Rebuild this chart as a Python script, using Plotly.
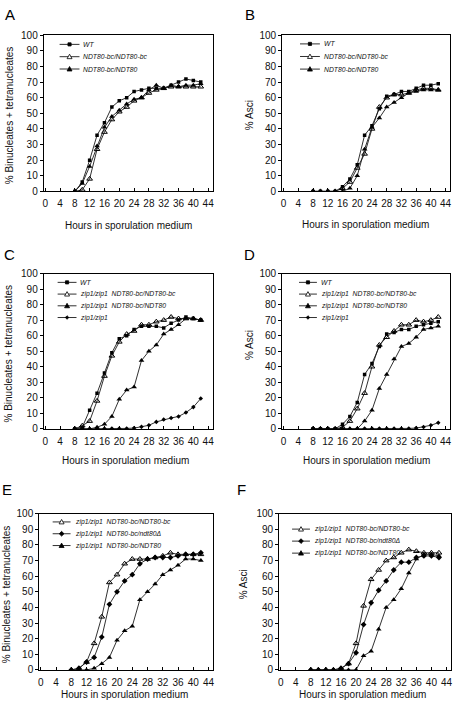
import plotly.graph_objects as go

W, H = 456, 715

hours = [8, 10, 12, 14, 16, 18, 20, 22, 24, 26, 28, 30, 32, 34, 36, 38, 40, 42]
x_ticks = [0, 4, 8, 12, 16, 20, 24, 28, 32, 36, 40, 44]

# ---- Panel A: % binucleates + tetranucleates
a_wt     = [0, 6, 20, 36, 44, 54, 58, 60, 64, 65, 66, 66, 66, 68, 70, 72, 71, 70]
a_bc_bc  = [0, 1, 8, 27, 38, 46, 51, 54, 58, 60, 63, 65, 66, 67, 67, 67, 67, 67]
a_bc_nd  = [0, 5, 16, 29, 41, 48, 52, 56, 59, 60, 65, 68, 66, 68, 67, 68, 68, 69]

# ---- Panel B: % asci
b_wt     = [0, 0, 0, 0, 3, 8, 17, 36, 42, 53, 61, 62, 64, 64, 66, 68, 68, 69]
b_bc_bc  = [0, 0, 0, 0, 2, 6, 15, 24, 40, 54, 60, 62, 62, 63, 65, 66, 66, 65]
b_bc_nd  = [0, 0, 0, 0, 0, 2, 10, 27, 41, 47, 54, 57, 60, 63, 64, 65, 65, 65]

# ---- Panel C: % binucleates + tetranucleates
c_wt     = [0, 1, 12, 23, 36, 49, 58, 60, 64, 66, 66, 66, 65, 68, 70, 72, 71, 70]
c_bc_bc  = [0, 2, 5, 18, 34, 47, 56, 61, 63, 67, 67, 69, 70, 72, 71, 71, 71, 70]
c_bc_nd  = [0, 0, 0, 1, 3, 8, 19, 25, 27, 44, 50, 54, 61, 64, 67, 71, 71, 70]
c_zip    = [0, 0, 0, 0, 0.3, 0.3, 0.3, 0.3, 0.5, 1.3, 2.3, 4.5, 6, 7, 8, 10.5, 14, 19.5]

# ---- Panel D: % asci
d_wt     = [0, 0, 0, 0, 3, 8, 17, 35, 42, 53, 61, 62, 64, 64, 66, 67, 68, 69]
d_bc_bc  = [0, 0, 0, 0, 1, 5, 13, 23, 40, 54, 59, 63, 67, 67, 70, 69, 70, 72]
d_bc_nd  = [0, 0, 0, 0, 0, 0, 0, 5, 12, 26, 35, 45, 53, 55, 59, 64, 65, 66]
d_zip    = [0, 0, 0, 0, 0, 0, 0.3, 0.3, 0.3, 0.3, 0.3, 0.3, 0.3, 0.3, 0.5, 1.2, 2.3, 4]

# ---- Panel E: % binucleates + tetranucleates
e_bc_bc  = [0, 1, 5, 17, 34, 56, 61, 68, 71, 71, 71, 72, 73, 75, 74, 74, 74, 74]
e_bc_del = [0, 1, 5, 8, 21, 42, 50, 57, 61, 68, 71, 72, 72, 72, 73, 74, 74, 75]
e_bc_nd  = [0, 0, 0, 1, 4, 8, 19, 25, 28, 45, 50, 55, 61, 64, 67, 71, 71, 70]

# ---- Panel F: % asci
f_bc_bc  = [0, 0, 0, 0, 1, 4, 17, 41, 58, 64, 70, 72, 75, 77, 76, 75, 75, 75]
f_bc_del = [0, 0, 0, 0, 1, 4, 11, 29, 43, 51, 57, 64, 69, 69, 72, 73, 73, 72]
f_bc_nd  = [0, 0, 0, 0, 0, 0, 0, 9, 12, 26, 40, 45, 52, 62, 71, 74, 74, 73]

SP = "\u00a0\u00a0"
lbl_wt = "WT"
lbl_bcbc = "NDT80-bc/NDT80-bc"
lbl_bcnd = "NDT80-bc/NDT80"
lbl_z_bcbc = "zip1/zip1" + SP + "NDT80-bc/NDT80-bc"
lbl_z_bcnd = "zip1/zip1" + SP + "NDT80-bc/NDT80"
lbl_z = "zip1/zip1"
lbl_z_del = "zip1/zip1" + SP + "NDT80-bc/ndt80Δ"

panels = [
    dict(letter="A", ytitle="% Binucleates + tetranucleates",
         series=[(lbl_wt, a_wt, "wt"), (lbl_bcbc, a_bc_bc, "open"), (lbl_bcnd, a_bc_nd, "tri")]),
    dict(letter="B", ytitle="% Asci",
         series=[(lbl_wt, b_wt, "wt"), (lbl_bcbc, b_bc_bc, "open"), (lbl_bcnd, b_bc_nd, "tri")]),
    dict(letter="C", ytitle="% Binucleates + tetranucleates",
         series=[(lbl_wt, c_wt, "wt"), (lbl_z_bcbc, c_bc_bc, "open"), (lbl_z_bcnd, c_bc_nd, "tri"),
                 (lbl_z, c_zip, "zip")]),
    dict(letter="D", ytitle="% Asci",
         series=[(lbl_wt, d_wt, "wt"), (lbl_z_bcbc, d_bc_bc, "open"), (lbl_z_bcnd, d_bc_nd, "tri"),
                 (lbl_z, d_zip, "zip")]),
    dict(letter="E", ytitle="% Binucleates + tetranucleates",
         series=[(lbl_z_bcbc, e_bc_bc, "open"), (lbl_z_del, e_bc_del, "dia"), (lbl_z_bcnd, e_bc_nd, "tri")]),
    dict(letter="F", ytitle="% Asci",
         series=[(lbl_z_bcbc, f_bc_bc, "open"), (lbl_z_del, f_bc_del, "dia"), (lbl_z_bcnd, f_bc_nd, "tri")]),
]

# ---- layout geometry (pixels)
geom = [
    dict(x=(43, 213), y=(30.7, 189.3), letter=(9.5, 9.5), xt=(128, 224), yt=(8, 112),
         leg=(59, 79, 81, 40.0, 12.5)),
    dict(x=(283, 452), y=(30.7, 189.3), letter=(250.5, 9.5), xt=(367, 223), yt=(249.5, 112),
         leg=(301, 321, 323, 39.5, 12.8)),
    dict(x=(43, 213), y=(272.7, 430.5), letter=(9, 253), xt=(125, 463), yt=(8, 354),
         leg=(57, 76, 78, 281.7, 11.9)),
    dict(x=(283, 452), y=(272.7, 430.5), letter=(250.5, 253), xt=(368, 463), yt=(250, 345),
         leg=(300, 318, 320, 281.7, 11.9)),
    dict(x=(38.5, 213.5), y=(516.7, 675.3), letter=(6, 492.5), xt=(124, 700), yt=(5.5, 598),
         leg=(52, 70, 72, 525.0, 12.0)),
    dict(x=(280, 453), y=(516.7, 675.3), letter=(242, 492.5), xt=(364, 700), yt=(245, 588),
         leg=(293, 311, 313, 532.3, 12.2)),
]

STY = {
    "wt": dict(symbol="square", size=3.5, color="black"),
    "open": dict(symbol="triangle-up-open", size=5, color="black", line=dict(width=1, color="black")),
    "tri": dict(symbol="triangle-up", size=5, color="black"),
    "zip": dict(symbol="diamond", size=3.5, color="black"),
    "dia": dict(symbol="diamond", size=4.5, color="black"),
}

FONT = "Liberation Sans, Arial, sans-serif"
LINE_COLOR = "#1a1a1a"


def px(x, y):
    return x / W, 1 - y / H


fig = go.Figure()
shapes = []
annotations = []

for i, (p, g) in enumerate(zip(panels, geom)):
    n = i + 1
    xa = "x" if n == 1 else f"x{n}"
    ya = "y" if n == 1 else f"y{n}"
    for name, vals, kind in p["series"]:
        fig.add_trace(go.Scatter(
            x=hours, y=vals, name=name, mode="lines+markers",
            line=dict(color=LINE_COLOR, width=0.9),
            marker=STY[kind], xaxis=xa, yaxis=ya, showlegend=False,
        ))
    xd = [g["x"][0] / W, g["x"][1] / W]
    yd = [1 - g["y"][1] / H, 1 - g["y"][0] / H]
    axis_common = dict(showline=True, linecolor="black", linewidth=1, mirror=True,
                       showgrid=False, zeroline=False,
                       tickfont=dict(family=FONT, size=10, color="#111"))
    fig.layout[f"xaxis{'' if n == 1 else n}"] = dict(
        domain=xd, range=[-0.4, 45.2], tickvals=x_ticks, ticks="inside", ticklen=3,
        ticklabelstandoff=3, tickcolor="black", anchor=ya, **axis_common)
    fig.layout[f"yaxis{'' if n == 1 else n}"] = dict(
        domain=yd, range=[0, 100], dtick=10, ticks="outside", ticklen=3,
        tickcolor="black", anchor=xa, **axis_common)

    # panel letter
    lx, ly = px(*g["letter"])
    annotations.append(dict(text=p["letter"], x=lx, y=ly, xref="paper", yref="paper",
                            showarrow=False, xanchor="center", yanchor="middle",
                            font=dict(family=FONT, size=15, color="black")))
    # axis titles
    tx, ty = px(*g["xt"])
    annotations.append(dict(text="Hours in sporulation medium", x=tx, y=ty, xref="paper", yref="paper",
                            showarrow=False, xanchor="center", yanchor="middle",
                            font=dict(family=FONT, size=10, color="#111")))
    tx, ty = px(*g["yt"])
    annotations.append(dict(text=p["ytitle"], x=tx, y=ty, xref="paper", yref="paper",
                            showarrow=False, xanchor="center", yanchor="middle", textangle=-90,
                            font=dict(family=FONT, size=10, color="#111")))

    # manual legend
    lx0, lx1, txx, ry0, rdy = g["leg"]
    for k, (name, vals, kind) in enumerate(p["series"]):
        ry = ry0 + k * rdy
        a0 = px(lx0, ry)
        a1 = px(lx1, ry)
        shapes.append(dict(type="line", xref="paper", yref="paper",
                           x0=a0[0], y0=a0[1], x1=a1[0], y1=a1[1],
                           line=dict(color=LINE_COLOR, width=0.9)))
        cx = (lx0 + lx1) / 2
        if kind in ("open", "tri"):
            r = 2.5
            pts = [(cx, ry - r), (cx + r, ry + r * 0.8), (cx - r, ry + r * 0.8)]
            fill = "white" if kind == "open" else "black"
        elif kind == "wt":
            r = 1.6
            pts = [(cx - r, ry - r), (cx + r, ry - r), (cx + r, ry + r), (cx - r, ry + r)]
            fill = "black"
        else:
            r = 1.8 if kind == "zip" else 2.4
            pts = [(cx, ry - r), (cx + r, ry), (cx, ry + r), (cx - r, ry)]
            fill = "black"
        path = "M " + " L ".join(f"{px(a, b)[0]:.5f},{px(a, b)[1]:.5f}" for a, b in pts) + " Z"
        shapes.append(dict(type="path", xref="paper", yref="paper", path=path,
                           fillcolor=fill, line=dict(color="black", width=0.8)))
        tp = px(txx, ry)
        annotations.append(dict(text=f"<i>{name}</i>", x=tp[0], y=tp[1], xref="paper", yref="paper",
                                showarrow=False, xanchor="left", yanchor="middle",
                                font=dict(family=FONT, size=6.8, color="#111")))

fig.update_layout(
    width=W, height=H, margin=dict(l=0, r=0, t=0, b=0),
    paper_bgcolor="white", plot_bgcolor="white",
    showlegend=False, shapes=shapes, annotations=annotations,
    font=dict(family=FONT, color="#111"),
)

fig.write_html("out.html", config={"displayModeBar": False},
               post_script="document.body.style.margin='0';document.body.style.overflow='hidden';")
